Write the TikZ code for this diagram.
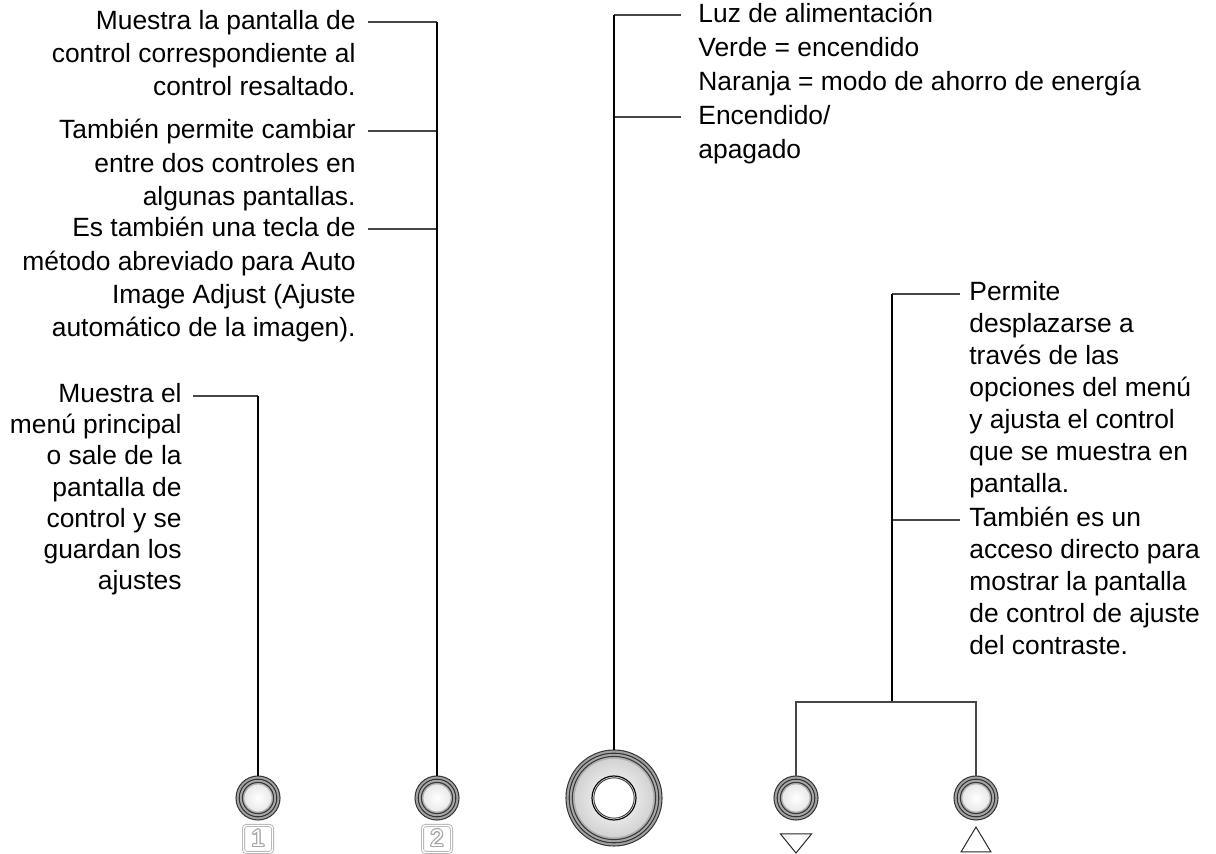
\documentclass[tikz,border=0pt]{standalone}
\usepackage{fontspec}
\setmainfont{Liberation Sans}
\usepackage[copies]{contour}
\contourlength{0.5pt}
\usetikzlibrary{calc}

\begin{document}
\begin{tikzpicture}[x=0.5pt, y=-0.5pt,
  font=\fontsize{13.2}{16.75}\selectfont,
  txt/.style={inner sep=0pt, align=#1, execute at begin node=\strut},
  leading/.style={font=\fontsize{13.2}{#1}\selectfont},
  lead/.style={line width=0.6pt, gray!55!black},
  stem/.style={line width=0.6pt, black},
  knob/.style={circle, inner sep=0pt, minimum size=#1},
  keycap/.style={draw=gray!60, double=white, double distance=0.7pt,
    rounded corners=1.5pt, minimum width=14.5pt, minimum height=13.5pt,
    inner sep=0pt, font=\fontsize{12}{12}\selectfont},
  tri/.style={line width=0.5pt, gray!30!black, line join=miter},
]
\useasboundingbox (0,0) rectangle (1216,854);

%% Buttons along the bottom
\node[knob=22pt] (b1) at (258,798) {};
\node[knob=22pt] (b2) at (437,798) {};
\node[knob=48pt] (pwr) at (614,798) {};
\node[knob=22pt] (b3) at (796,798) {};
\node[knob=22pt] (b4) at (976,798) {};

\foreach \k in {b1,b2,b3,b4} {
  \fill[gray!65] (\k) circle (11pt);
  \foreach \r/\c in {11/gray!45!black, 10.2/gray!75, 9.4/gray!40!black,
                     8.6/gray!70, 7.8/gray!45!black}
    \draw[\c, line width=0.55pt] (\k) circle (\r pt);
  \shade[inner color=white, outer color=gray!18] (\k) circle (7pt);
  \draw[gray!60, line width=0.4pt] (\k) circle (7pt);
}

%% Power button
\fill[gray!65] (pwr) circle (24pt);
\foreach \r/\c in {24/gray!45!black, 23.2/gray!75, 22.4/gray!40!black,
                   21.6/gray!70, 20.8/gray!45!black, 20/gray!60}
  \draw[\c, line width=0.55pt] (pwr) circle (\r pt);
\shade[inner color=white, outer color=gray!35] (pwr) circle (19.6pt);
\fill[white] (pwr) circle (11pt);
\draw[gray!10!black, line width=0.6pt] (pwr) circle (11pt);
\draw[gray!40!black, line width=0.45pt] (pwr) circle (10.1pt);

%% Key labels under the buttons
\node[keycap] (k1) at ($(b1)+(0,41)$) {\contour{gray!70}{\textcolor{white}{1}}};
\node[keycap] (k2) at ($(b2)+(0,41)$) {\contour{gray!70}{\textcolor{white}{2}}};
\draw[tri] ($(b3)+(-15.5,36)$) -- ++(31,0) -- ++(-15.5,19) -- cycle;
\draw[tri] ($(b4)+(-15,54)$) -- ++(30,0) -- ++(-15,-25) -- cycle;

%% Button 2 callouts
\coordinate (j2a) at (437,22);
\coordinate (j2b) at (437,131);
\coordinate (j2c) at (437,229);
\node[txt=right, leading=16.6pt, anchor=north east] (t2a) at ($(j2a)+(-81,-12)$)
  {Muestra la pantalla de\\control correspondiente al\\control resaltado.};
\node[txt=right, leading=16.6pt, anchor=north east] (t2b) at ($(j2b)+(-81,-12)$)
  {También permite cambiar\\entre dos controles en\\algunas pantallas.};
\node[txt=right, leading=16.6pt, anchor=north east] (t2c) at ($(j2c)+(-81,-12)$)
  {Es también una tecla de\\método abreviado para Auto\\Image Adjust (Ajuste\\automático de la imagen).};
\draw[lead] ($(t2a.north east)+(12,12)$) -- (j2a);
\draw[lead] ($(t2b.north east)+(12,12)$) -- (j2b);
\draw[lead] ($(t2c.north east)+(12,12)$) -- (j2c);
\draw[stem] (j2a) -- (b2.north);

%% Button 1 callout
\coordinate (j1) at (258,396);
\node[txt=right, leading=15.6pt, anchor=north east] (t1) at ($(j1)+(-76,-13)$)
  {Muestra el\\menú principal\\o sale de la\\pantalla de\\control y se\\guardan los\\ajustes};
\draw[lead] ($(t1.north east)+(11,13)$) -- (j1);
\draw[stem] (j1) -- (b1.north);

%% Power button callouts
\coordinate (jp1) at (614,15);
\coordinate (jp2) at (614,117);
\node[txt=left, leading=17pt, anchor=north west] (tp1) at ($(jp1)+(84,-12)$)
  {Luz de alimentación\\Verde = encendido\\Naranja = modo de ahorro de energía};
\node[txt=left, leading=17pt, anchor=north west] (tp2) at ($(jp2)+(84,-12)$)
  {Encendido/\\apagado};
\draw[lead] ($(tp1.north west)+(-17,12)$) -- (jp1);
\draw[lead] ($(tp2.north west)+(-17,12)$) -- (jp2);
\draw[stem] (jp1) -- (pwr.north);

%% Arrow buttons callouts
\coordinate (ja1) at (892,294);
\coordinate (ja2) at (892,520);
\coordinate (jab) at (892,702);
\node[txt=left, leading=16pt, anchor=north west] (ta1) at ($(ja1)+(77,-13)$)
  {Permite\\desplazarse a\\través de las\\opciones del menú\\y ajusta el control\\que se muestra en\\pantalla.};
\node[txt=left, leading=16pt, anchor=north west] (ta2) at ($(ja2)+(77,-13)$)
  {También es un\\acceso directo para\\mostrar la pantalla\\de control de ajuste\\del contraste.};
\draw[lead] ($(ta1.north west)+(-9,13)$) -- (ja1);
\draw[lead] ($(ta2.north west)+(-9,13)$) -- (ja2);
\draw[stem] (ja1) -- (jab);
\draw[lead] (b3.north) |- (jab) -| (b4.north);

\end{tikzpicture}
\end{document}
